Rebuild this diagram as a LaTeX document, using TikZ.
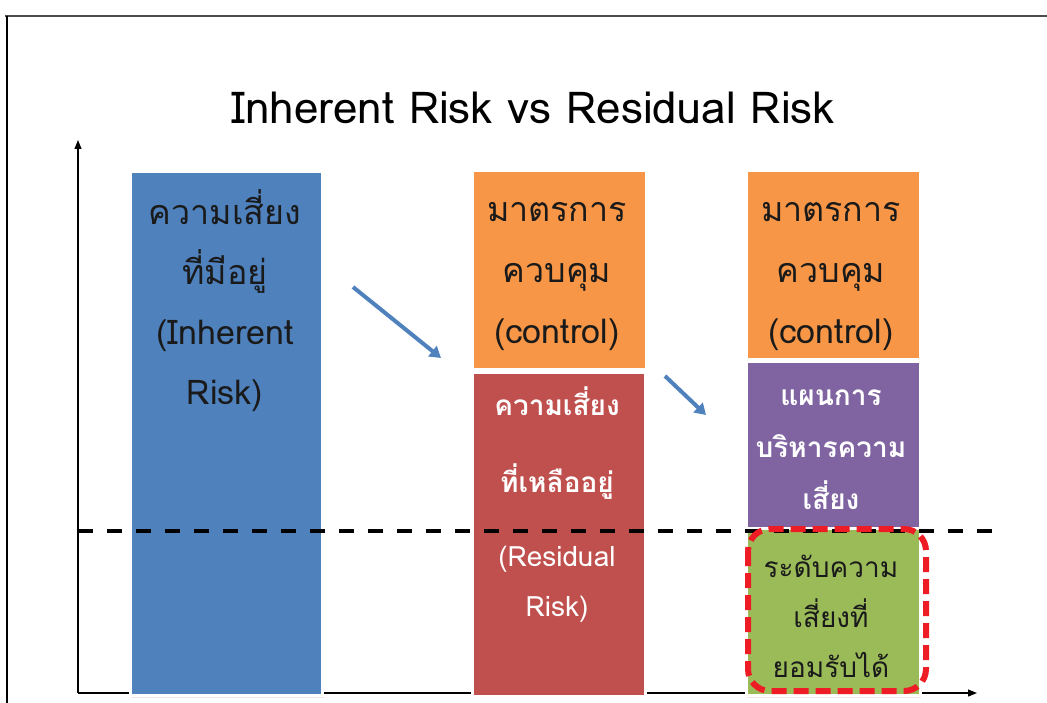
\documentclass[tikz,border=0pt]{standalone}
\usepackage{fontspec}
\newfontfamily\thai[Script=Thai]{Loma}
\usetikzlibrary{arrows.meta,shadows}
\definecolor{riskblue}{HTML}{4F81BD}
\definecolor{ctrlorange}{HTML}{F79646}
\definecolor{residred}{HTML}{C0504D}
\definecolor{planpurple}{HTML}{8064A2}
\definecolor{okgreen}{HTML}{9BBB59}
\definecolor{alertred}{HTML}{EE1C25}
\definecolor{ink}{HTML}{1A1A1A}
\tikzset{
  bar/.style={draw=white, line width=3pt, inner sep=0pt, anchor=north west,
    drop shadow={opacity=0.18, shadow xshift=1pt, shadow yshift=-2pt}},
  bigtext/.style={font=\thai\fontsize{34}{60}\selectfont, text=ink, align=center, inner sep=0pt},
  midtext/.style={font=\thai\bfseries\fontsize{28}{52}\selectfont, align=center, inner sep=0pt},
  axis/.style={line width=1.2pt, -{Triangle[length=9pt,width=7pt]}},
  flow/.style={draw=riskblue, line width=4pt, -{Triangle[length=11pt,width=13pt]},
    shorten >=0pt}
}
\begin{document}
\begin{tikzpicture}[x=1pt,y=-1pt]
\useasboundingbox (0,0) rectangle (1047,703);
\fill[white] (0,0) rectangle (1047,703);

% page frame
\draw[black!70, line width=1.5pt] (5,16) -- (1047,16);
\draw[black, line width=1.2pt] (7,16) -- (7,703);

% title
\node[font=\thai\fontsize{44}{50}\selectfont, text=black, inner sep=0pt] (title) at (533,108) {Inherent Risk vs Residual Risk};

% axes
\coordinate (origin) at (78,693);
\coordinate (ytip) at (78,140);
\coordinate (xtip) at (977,693);
\draw[axis] (origin) -- (ytip);
\draw[axis] (origin) -- (xtip);

% bars
\node[bar, fill=riskblue, minimum width=192pt, minimum height=524pt] (inherent) at (129,170) {};
\node[bar, fill=ctrlorange, minimum width=174pt, minimum height=198pt] (ctrlA) at (470.5,169.5) {};
\node[bar, fill=residred, minimum width=173pt, minimum height=324pt] (residual) at (471,370.5) {};
\node[bar, fill=ctrlorange, minimum width=174pt, minimum height=188pt] (ctrlB) at (744.5,169.5) {};
\node[bar, fill=planpurple, minimum width=174pt, minimum height=167pt] (plan) at (744.5,359.5) {};
\node[bar, fill=okgreen, minimum width=174pt, minimum height=167pt] (accept) at (744.5,527) {};

% bar labels
\node[bigtext, anchor=center] (inherentT) at (225,301) {ความเสี่ยง\\ที่มีอยู่\\(Inherent\\Risk)};
\node[bigtext, anchor=center, font=\thai\fontsize{34}{61}\selectfont] (ctrlAT) at (557,277) {มาตรการ\\ควบคุม\\(control)};
\node[bigtext, anchor=center, font=\thai\fontsize{34}{61}\selectfont] (ctrlBT) at (831,277) {มาตรการ\\ควบคุม\\(control)};
\node[midtext, text=white, font=\thai\bfseries\fontsize{28}{77}\selectfont] (residualT1) at (557,443) {ความเสี่ยง\\ที่เหลืออยู่};
\node[midtext, text=white, font=\thai\fontsize{28}{50}\selectfont] (residualT2) at (557,584) {(Residual\\Risk)};
\node[midtext, text=white] (planT) at (831,450) {แผนการ\\บริหารความ\\เสี่ยง};
\node[midtext, text=ink, font=\thai\fontsize{28}{50}\selectfont] (acceptT) at (831,616) {ระดับความ\\เสี่ยงที่\\ยอมรับได้};

% acceptable-risk threshold
\coordinate (thrL) at (78,531);
\coordinate (thrR) at (994,531);
\draw[black, line width=3.5pt, dash pattern=on 15pt off 14pt] (thrL) -- (thrR);

% highlight around the acceptable level
\draw[alertred, line width=6pt, rounded corners=22pt, dash pattern=on 15pt off 7pt]
  (accept.north west) ++(3.5,2) rectangle (926,691);

% flow arrows
\coordinate (f1s) at (353,287);
\coordinate (f1e) at (441,358);
\coordinate (f2s) at (665,376);
\coordinate (f2e) at (706,415);
\draw[flow] (f1s) -- (f1e);
\draw[flow] (f2s) -- (f2e);
\end{tikzpicture}
\end{document}
